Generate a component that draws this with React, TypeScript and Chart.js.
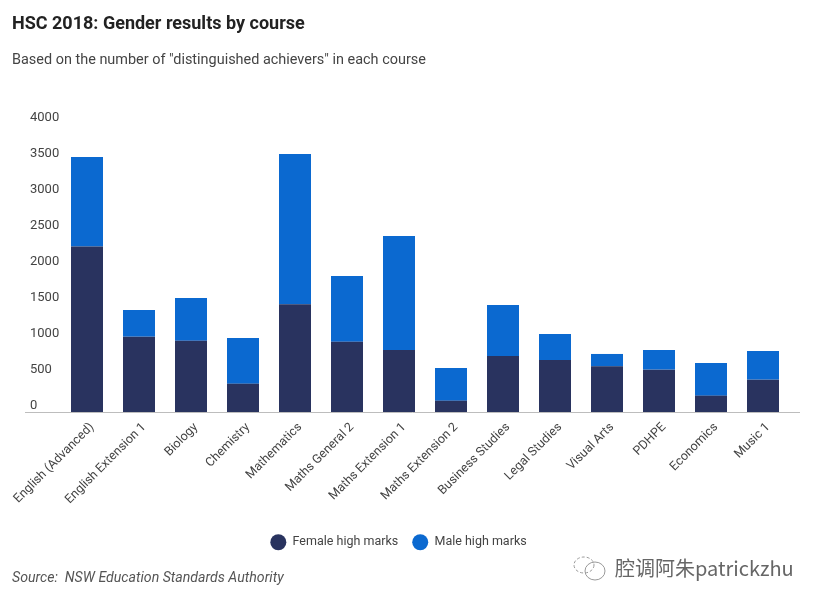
import React, { useEffect, useRef } from "react";
import { Chart, registerables } from "chart.js";

Chart.register(...registerables);

const courses = [
  "English (Advanced)", "English Extension 1", "Biology", "Chemistry", "Mathematics",
  "Maths General 2", "Maths Extension 1", "Maths Extension 2", "Business Studies",
  "Legal Studies", "Visual Arts", "PDHPE", "Economics", "Music 1",
];
const femaleHighMarks = [2300, 1046, 990, 393, 1495, 977, 861, 157, 778, 722, 634, 588, 227, 449];
const maleHighMarks = [1242, 371, 593, 635, 2088, 912, 1583, 454, 708, 361, 172, 273, 454, 398];
const FONT = "Roboto, 'Open Sans', sans-serif";

const placeLegend = {
  id: "placeLegend",
  afterLayout(chart: any) {
    const l = chart.legend;
    const h = l.bottom - l.top;
    l.left -= 11;
    l.right -= 11;
    l.top = 522;
    l.bottom = 522 + h;
  },
};

const baseline = {
  id: "baseline",
  afterDatasetsDraw(chart: any) {
    const { ctx, chartArea, scales } = chart;
    const y = Math.round(scales.y.getPixelForValue(0)) + 0.5;
    ctx.save();
    ctx.strokeStyle = "#bdbdbd";
    ctx.lineWidth = 1;
    ctx.beginPath();
    ctx.moveTo(chartArea.left - 36, y);
    ctx.lineTo(chartArea.right + 11, y);
    ctx.stroke();
    ctx.restore();
  },
};

export default function App() {
  const ref = useRef<HTMLCanvasElement>(null);
  useEffect(() => {
    const chart = new Chart(ref.current!, {
      type: "bar",
      data: {
        labels: courses,
        datasets: [
          { label: "Female high marks", data: femaleHighMarks, backgroundColor: "#29335f", categoryPercentage: 1, barPercentage: 32 / 52 },
          { label: "Male high marks", data: maleHighMarks, backgroundColor: "#0b69d0", categoryPercentage: 1, barPercentage: 32 / 52 },
        ],
      },
      options: {
        responsive: false,
        animation: false,
        layout: { padding: { top: 124, left: 30, right: 31, bottom: 0 } },
        plugins: {
          legend: {
            position: "bottom",
            labels: {
              usePointStyle: true,
              pointStyle: "circle",
              pointStyleWidth: 16,
              boxHeight: 11.3,
              padding: 14,
              color: "#444",
              font: { family: FONT, size: 12.5 },
            },
          },
          tooltip: { enabled: false },
        },
        scales: {
          x: {
            stacked: true,
            grid: { display: false },
            border: { display: false },
            afterFit(scale: any) {
              scale.height = 606 - 412 - scale.chart.legend.height;
            },
            ticks: {
              autoSkip: false,
              maxRotation: 45,
              minRotation: 45,
              padding: 0,
              labelOffset: 5,
              color: "#444",
              font: { family: FONT, size: 12.5 },
            },
          },
          y: {
            stacked: true,
            min: 0,
            max: 4000,
            grid: { display: false },
            border: { display: false },
            afterFit(scale: any) {
              scale.width = 31;
            },
            ticks: {
              stepSize: 500,
              crossAlign: "far",
              padding: 0,
              labelOffset: -6,
              color: "#444",
              font: { family: FONT, size: 13 },
              callback: (v: any) => String(v),
            },
          },
        },
      },
      plugins: [placeLegend, baseline],
    });
    return () => chart.destroy();
  }, []);

  const text = { position: "absolute" as const, whiteSpace: "pre" as const, fontFamily: FONT };
  return (
    <div style={{ position: "absolute", left: 0, top: 0, width: 820, height: 606, background: "#fff", overflow: "hidden" }}>
      <canvas ref={ref} width={820} height={606} style={{ display: "block" }} />
      <div style={{ ...text, left: 12, top: 12, fontSize: 18, fontWeight: 700, color: "#222" }}>HSC 2018: Gender results by course</div>
      <div style={{ ...text, left: 12, top: 51, fontSize: 14.45, color: "#444" }}>Based on the number of "distinguished achievers" in each course</div>
      <div style={{ ...text, left: 12, top: 569, fontSize: 14.15, fontStyle: "italic", color: "#555" }}>Source:  NSW Education Standards Authority</div>
      <svg style={{ position: "absolute", left: 572, top: 555 }} width="38" height="28" viewBox="0 0 38 28" fill="none" stroke="#999" strokeWidth="1">
        <ellipse cx="12" cy="10" rx="10" ry="8" strokeDasharray="3 2" />
        <ellipse cx="23" cy="16" rx="10" ry="9" />
      </svg>
      <div style={{ ...text, left: 615, top: 553, fontSize: 20, color: "#666", fontFamily: "'Noto Sans CJK SC', sans-serif" }}>腔调阿朱patrickzhu</div>
    </div>
  );
}
